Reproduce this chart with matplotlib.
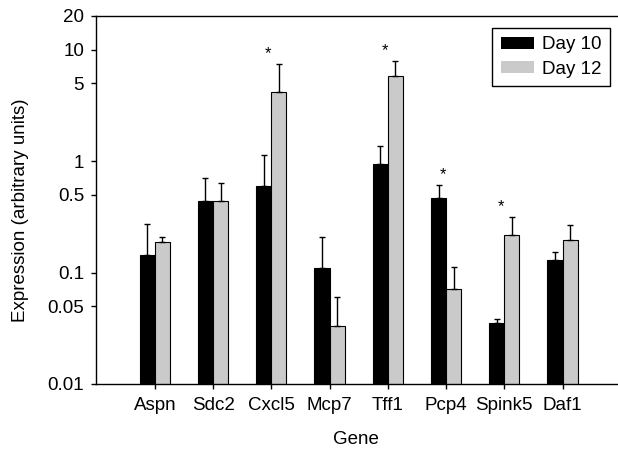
import numpy as np
import matplotlib
matplotlib.use('Agg')
import matplotlib.pyplot as plt
from matplotlib import ticker
from matplotlib.patches import Patch

#data:
genes = ['Aspn', 'Sdc2', 'Cxcl5', 'Mcp7', 'Tff1', 'Pcp4', 'Spink5', 'Daf1']
day10 = [0.144, 0.439, 0.597, 0.109, 0.935, 0.463, 0.0355, 0.130]
day10Err = [0.129, 0.261, 0.536, 0.101, 0.439, 0.147, 0.0026, 0.022]
day12 = [0.189, 0.439, 4.19, 0.0333, 5.75, 0.0713, 0.217, 0.196]
day12Err = [0.018, 0.193, 3.18, 0.0271, 2.10, 0.0397, 0.100, 0.071]
significant = ['Cxcl5', 'Tff1', 'Pcp4', 'Spink5']
yTicks = [0.01, 0.05, 0.1, 0.5, 1, 5, 10, 20]

plt.rcParams['font.family'] = ['Liberation Sans', 'DejaVu Sans']
plt.rcParams['font.size'] = 13.5

fig = plt.figure(figsize=(6.18, 4.49), dpi=100)
ax = fig.add_axes([0.1553, 0.1448, 0.8427, 0.8196])

x = np.arange(len(genes))
width = 0.26
errKw = dict(elinewidth=1.0, capsize=2.5, capthick=1.0, ecolor='black')
ax.bar(x - width/2, day10, width, color='black', edgecolor='black',
       linewidth=0.8, yerr=[np.zeros(len(genes)), day10Err],
       error_kw=errKw, zorder=2)
ax.bar(x + width/2, day12, width, color='#cacaca', edgecolor='black',
       linewidth=0.8, yerr=[np.zeros(len(genes)), day12Err],
       error_kw=errKw, zorder=2)

#stars over significant genes
for i, g in enumerate(genes):
    if g in significant:
        top = max(day10[i] + day10Err[i], day12[i] + day12Err[i])
        ax.annotate('*', (x[i] - 0.05, top), xytext=(0, 2),
                    textcoords='offset points', ha='center', va='bottom',
                    fontsize=12)

ax.set_yscale('log')
ax.set_ylim(0.01, 20)
ax.set_xlim(-1.01, 7.93)
ax.yaxis.set_major_locator(ticker.FixedLocator(yTicks))
ax.yaxis.set_minor_locator(ticker.NullLocator())
ax.yaxis.set_major_formatter(ticker.FixedFormatter([f'{t:g}' for t in yTicks]))
ax.set_xticks(x)
ax.set_xticklabels(genes)
ax.tick_params(axis='both', direction='out', length=3.5, width=1.0,
               labelsize=13.5)
ax.tick_params(axis='x', pad=6)
ax.tick_params(axis='y', pad=5)
ax.spines['right'].set_visible(False)
for s in ['left', 'top', 'bottom']:
    ax.spines[s].set_linewidth(1.0)

ax.set_xlabel('Gene', fontsize=13.5, labelpad=12)
ax.set_ylabel('Expression (arbitrary units)', fontsize=13.5)
ax.yaxis.set_label_coords(-0.128, 0.473)

handles = [Patch(facecolor='black', label='Day 10'),
           Patch(facecolor='#cacaca', label='Day 12')]
legend = ax.legend(handles=handles, loc='upper right',
                   bbox_to_anchor=(0.9866, 0.968), borderaxespad=0,
                   fontsize=13.5, fancybox=False, framealpha=1,
                   edgecolor='black', handlelength=1.8, handleheight=0.62,
                   handletextpad=0.4, borderpad=0.45, labelspacing=0.4)
legend.get_frame().set_linewidth(1.0)

fig.savefig('out.png', dpi=100)
